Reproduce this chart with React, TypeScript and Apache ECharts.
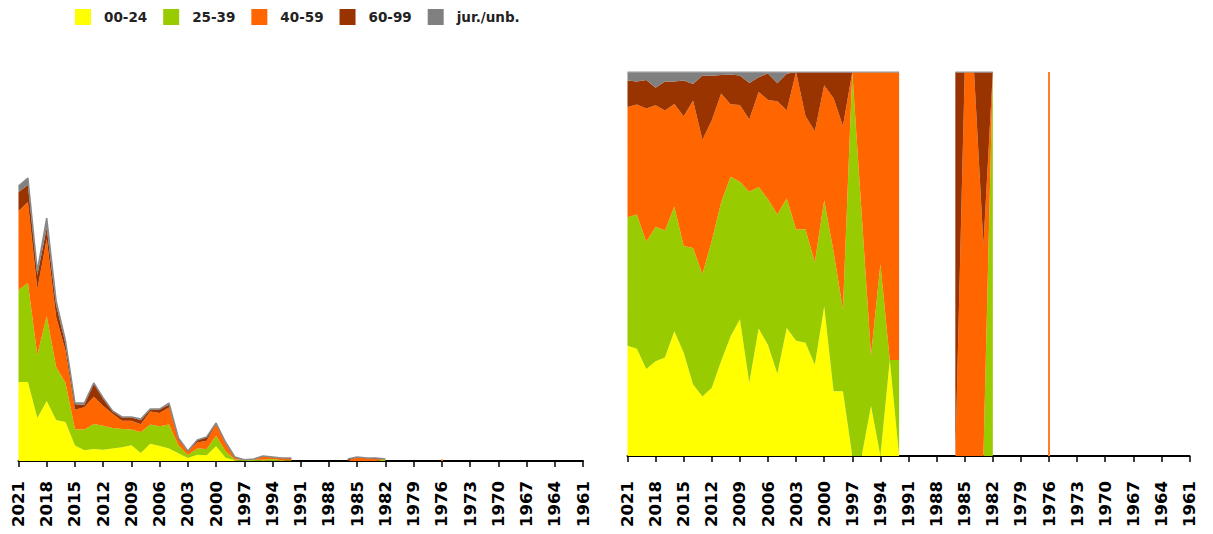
import React, { useEffect, useRef } from "react";
import * as echarts from "echarts";

// Years, newest first (2021 ... 1961)
const years = [
  "2021","2020","2019","2018","2017","2016","2015","2014","2013","2012",
  "2011","2010","2009","2008","2007","2006","2005","2004","2003","2002",
  "2001","2000","1999","1998","1997","1996","1995","1994","1993","1992",
  "1991","1990","1989","1988","1987","1986","1985","1984","1983","1982",
  "1981","1980","1979","1978","1977","1976","1975","1974","1973","1972",
  "1971","1970","1969","1968","1967","1966","1965","1964","1963","1962",
  "1961",
];

const seriesNames = ["00-24", "25-39", "40-59", "60-99", "jur./unb."];
const seriesColors = ["#FFFF00", "#99CC00", "#FF6600", "#993300", "#808080"];

const N = null;
// counts per age group, index aligned with years
const age0024 = [
  79, 79, 43, 60, 41, 39, 15.6, 10.8, 12.1, 11.2,
  12.4, 13.7, 15.7, 8.0, 17.3, 15.0, 12.4, 7.7, 3.0, 6.2,
  5.7, 14.8, 3.2, 0.67, 0, 0, 0.65, 0, 0.75, 0,
  N, N, N, N, N, 0, 0, 0, 0, 0,
  N, N, N, N, N, 0, N, N, N, N,
  N, N, N, N, N, N, N, N, N, N,
  N,
];
const age2539 = [
  92, 99, 63, 85, 53, 39, 16.1, 20.6, 24.9, 24.1,
  20.7, 18.3, 15.8, 20.9, 19.2, 19.7, 24.0, 7.8, 2.9, 6.2,
  6.4, 10.5, 6.9, 0.85, 1.2, 1.26, 0.66, 2.0, 0, 0.75,
  N, N, N, N, N, 0, 0, 0, 0, 2,
  N, N, N, N, N, 0, N, N, N, N,
  N, N, N, N, N, N, N, N, N, N,
  N,
];
const age4059 = [
  79, 81, 66, 77, 50, 32, 19.6, 22.3, 27.3, 19.8,
  14.2, 8.3, 8.8, 7.9, 12.9, 13.4, 17.1, 5.3, 4.1, 6.2,
  8.2, 11.4, 7.6, 1.9, 0, 0.74, 3.69, 2.0, 2.25, 2.25,
  N, N, N, N, N, 0, 4, 3, 1.65, 0,
  N, N, N, N, N, 1.5, N, N, N, N,
  N, N, N, N, N, N, N, N, N, N,
  N,
];
const age6099 = [
  19, 17, 14, 11, 12, 7, 5.4, 2.5, 13.1, 7.3,
  2.4, 3.4, 3.4, 4.0, 2.0, 3.6, 2.7, 2.2, 0, 2.4,
  3.7, 1.3, 1.3, 0.56, 0, 0, 0, 0, 0, 0,
  N, N, N, N, N, 2, 0, 0, 1.35, 0,
  N, N, N, N, N, 0, N, N, N, N,
  N, N, N, N, N, N, N, N, N, N,
  N,
];
const jurUnb = [
  6, 7, 4, 10, 4, 3, 1.3, 1.8, 0.7, 0.6,
  0.4, 0.3, 0.4, 1.2, 0.7, 0.2, 1.7, 0.1, 0, 0,
  0, 0, 0, 0, 0, 0, 0, 0, 0, 0,
  N, N, N, N, N, 0, 0, 0, 0, 0,
  N, N, N, N, N, 0, N, N, N, N,
  N, N, N, N, N, N, N, N, N, N,
  N,
];

const layers = [age0024, age2539, age4059, age6099, jurUnb];

// share (%) of each group per year, for the right-hand 100% chart
const totals = years.map((_, i) => {
  let s = 0;
  let any = false;
  layers.forEach((l) => {
    const v = l[i];
    if (v != null) {
      any = true;
      s += v;
    }
  });
  return any && s > 0 ? s : null;
});
const shares = layers.map((l) =>
  l.map((v, i) => (v == null || totals[i] == null ? null : (v / (totals[i] as number)) * 100))
);

const FONT = "DejaVu Sans";

function buildOption() {
  const xAxisBase = (gridIndex: number, margin: number) => ({
    type: "category",
    gridIndex,
    data: years,
    boundaryGap: false,
    axisLine: { show: true, onZero: false, lineStyle: { color: "#000", width: 2 } },
    axisTick: { show: true, interval: 2, length: 6, lineStyle: { color: "#000", width: 1.5 } },
    axisLabel: {
      interval: 2,
      rotate: 90,
      margin,
      color: "#000",
      fontFamily: FONT,
      fontWeight: "bold",
      fontSize: 16.5,
    },
    splitLine: { show: false },
  });

  const series: any[] = [];
  layers.forEach((data, k) => {
    series.push({
      type: "line",
      name: seriesNames[k],
      stack: "left",
      xAxisIndex: 0,
      yAxisIndex: 0,
      data,
      symbol: "none",
      silent: true,
      itemStyle: { color: seriesColors[k] },
      areaStyle: { color: seriesColors[k], opacity: 1 },
      lineStyle: k === 4 ? { color: "#8a8a8a", width: 1.5 } : { width: 0 },
      ...(k === 2
        ? {
            markLine: {
              silent: true,
              symbol: ["none", "none"],
              label: { show: false },
              lineStyle: { color: "#FF6600", width: 2, type: "solid" },
              data: [[{ coord: ["1976", 0] }, { coord: ["1976", 1.5] }]],
            },
          }
        : {}),
    });
  });
  shares.forEach((data, k) => {
    series.push({
      type: "line",
      name: seriesNames[k],
      stack: "right",
      xAxisIndex: 1,
      yAxisIndex: 1,
      data,
      symbol: "none",
      silent: true,
      itemStyle: { color: seriesColors[k] },
      areaStyle: { color: seriesColors[k], opacity: 1 },
      lineStyle: k === 4 ? { color: "#a0a0a0", width: 1.5 } : { width: 0 },
      ...(k === 2
        ? {
            markLine: {
              silent: true,
              symbol: ["none", "none"],
              label: { show: false },
              lineStyle: { color: "#FF7F2A", width: 2, type: "solid" },
              data: [[{ coord: ["1976", 0] }, { coord: ["1976", 100] }]],
            },
          }
        : {}),
    });
  });

  return {
    animation: false,
    backgroundColor: "#fff",
    legend: {
      left: 75,
      top: 9,
      padding: 0,
      icon: "rect",
      itemWidth: 16,
      itemHeight: 16,
      itemGap: 16,
      selectedMode: false,
      data: seriesNames,
      textStyle: {
        fontFamily: FONT,
        fontWeight: "bold",
        fontSize: 13.5,
        color: "#222",
        padding: [0, 0, 0, 8],
      },
    },
    grid: [
      { left: 18.5, top: 73, width: 564.5, height: 388, containLabel: false },
      { left: 627.5, top: 72, width: 562, height: 384, containLabel: false },
    ],
    xAxis: [xAxisBase(0, 20), xAxisBase(1, 25)],
    yAxis: [
      { type: "value", gridIndex: 0, min: 0, max: 388, show: false, splitLine: { show: false } },
      { type: "value", gridIndex: 1, min: 0, max: 100, show: false, splitLine: { show: false } },
    ],
    series,
  };
}

export default function App() {
  const ref = useRef<HTMLDivElement>(null);
  useEffect(() => {
    if (!ref.current) return;
    const chart = echarts.init(ref.current, null, { renderer: "svg" });
    chart.setOption(buildOption() as any);
    return () => chart.dispose();
  }, []);
  return (
    <div
      ref={ref}
      style={{ position: "absolute", left: 0, top: 0, width: 1213, height: 534 }}
    />
  );
}
